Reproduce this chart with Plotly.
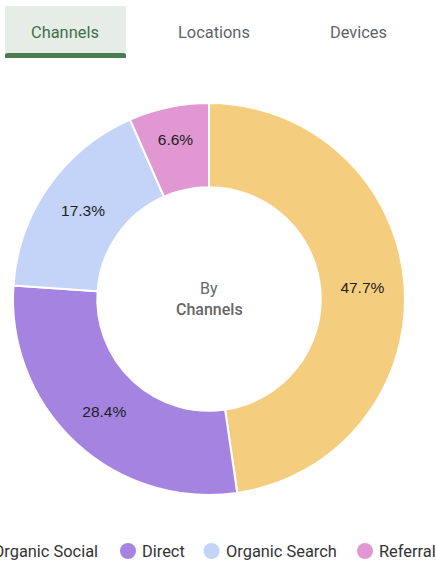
import plotly.graph_objects as go

W, H = 436, 562

channels = ["Organic Social", "Direct", "Organic Search", "Referral"]
shares = [47.7, 28.4, 17.3, 6.6]
colors = ["#F5CD7E", "#A484E0", "#C3D4F8", "#E197D2"]
tabs = ["Channels", "Locations", "Devices"]
center_lines = ["By", "Channels"]

def px_x(x):
    return x / W

def px_y(y):
    return 1 - y / H

fig = go.Figure()
fig.add_trace(go.Pie(
    labels=channels,
    values=shares,
    sort=False,
    direction="clockwise",
    rotation=0,
    hole=0.57,
    marker=dict(colors=colors, line=dict(color="white", width=2)),
    texttemplate="%{percent:.1%}",
    textposition="inside",
    insidetextorientation="horizontal",
    textfont=dict(family="Liberation Sans, Arial", size=15.5, color="#222222"),
    domain=dict(x=[px_x(13), px_x(405)], y=[px_y(495), px_y(103)]),
    showlegend=False,
    hoverinfo="label+percent",
))

shapes = []
annotations = []

# tabs
shapes.append(dict(type="rect", xref="paper", yref="paper",
                   x0=px_x(5), x1=px_x(126), y0=px_y(56), y1=px_y(6),
                   fillcolor="#E6ECE6", line=dict(width=0), layer="below"))
shapes.append(dict(type="path", xref="paper", yref="paper",
                   path=f"M {px_x(5)} {px_y(58)} L {px_x(5)} {px_y(55)} Q {px_x(5)} {px_y(53)} {px_x(8)} {px_y(53)} "
                        f"L {px_x(123)} {px_y(53)} Q {px_x(126)} {px_y(53)} {px_x(126)} {px_y(55)} L {px_x(126)} {px_y(58)} Z",
                   fillcolor="#4A7B52", line=dict(width=0)))
tab_x = [65, 214, 358]
for i, (t, tx) in enumerate(zip(tabs, tab_x)):
    annotations.append(dict(text=t, x=px_x(tx), y=px_y(32), xref="paper", yref="paper",
                            showarrow=False, xanchor="center", yanchor="middle",
                            font=dict(family="Roboto", size=16.4,
                                      color="#3F7049" if i == 0 else "#5F6368")))

# center label
annotations.append(dict(text=center_lines[0], x=px_x(209), y=px_y(288), xref="paper", yref="paper",
                        showarrow=False, xanchor="center", yanchor="middle",
                        font=dict(family="Roboto", size=16, color="#666666")))
annotations.append(dict(text=center_lines[1], x=px_x(209), y=px_y(309), xref="paper", yref="paper",
                        showarrow=False, xanchor="center", yanchor="middle",
                        font=dict(family="Roboto", size=16, color="#666666", weight=500)))

# legend (drawn manually so it can overflow the page like the reference)
legend_circle_x = [-21, 128, 211.5, 365]
for name, col, cx in zip(channels, colors, legend_circle_x):
    r = 8
    shapes.append(dict(type="circle", xref="paper", yref="paper",
                       x0=px_x(cx - r), x1=px_x(cx + r), y0=px_y(551 + r), y1=px_y(551 - r),
                       fillcolor=col, line=dict(width=0)))
    annotations.append(dict(text=name, x=px_x(cx + 12), y=px_y(551), xref="paper", yref="paper",
                            showarrow=False, xanchor="left", yanchor="middle",
                            font=dict(family="Roboto", size=16.4, color="#333333")))

fig.update_layout(
    width=W, height=H,
    margin=dict(l=0, r=0, t=0, b=0),
    paper_bgcolor="white", plot_bgcolor="white",
    shapes=shapes, annotations=annotations,
    showlegend=False,
)

fig.write_html("out.html")
